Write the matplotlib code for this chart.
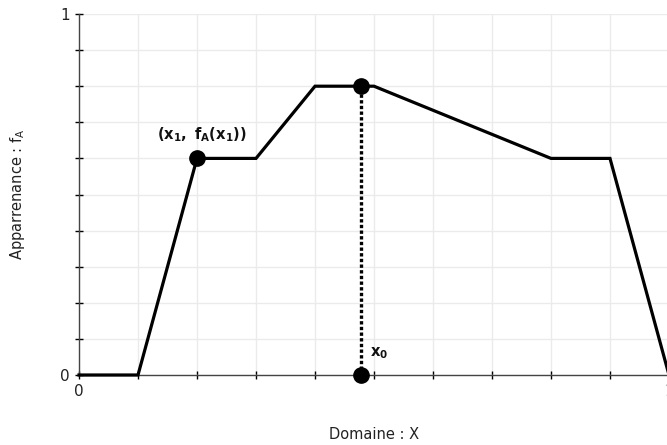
import matplotlib
matplotlib.use("Agg")
import matplotlib.pyplot as plt
import numpy as np

# Membership function (appearance) over the domain
x_vals = [0.0, 0.1, 0.2, 0.3, 0.4, 0.5, 0.8, 0.9, 1.0]
y_vals = [0.0, 0.0, 0.6, 0.6, 0.8, 0.8, 0.6, 0.6, 0.0]

# Highlighted points
x1, fx1 = 0.2, 0.6
x0, fx0 = 0.478, 0.8

tick_positions = [i / 10 for i in range(11)]
tick_labels = ["0"] + [""] * 9 + ["1"]

fig = plt.figure(figsize=(6.67, 4.45), dpi=100)
ax = fig.add_axes([79 / 667, 70 / 445, 590 / 667, 361 / 445])
ax.set_xlim(0, 1)
ax.set_ylim(0, 1)

ax.set_xticks(tick_positions)
ax.set_xticklabels(tick_labels)
ax.set_yticks(tick_positions)
ax.set_yticklabels(tick_labels)
ax.grid(True, color="#ebebeb", linewidth=1)
ax.set_axisbelow(True)

for s in ["top", "right"]:
    ax.spines[s].set_visible(False)
for s in ["left", "bottom"]:
    ax.spines[s].set_color("#444444")
    ax.spines[s].set_linewidth(1)

ax.tick_params(direction="inout", length=6, width=1, color="black",
               labelsize=11, labelcolor="#222222")

ax.plot(x_vals, y_vals, color="black", linewidth=2.3, solid_joinstyle="miter",
        clip_on=False, zorder=3)
ax.plot([x0, x0], [0, fx0], color="black", linestyle=(0, (1, 0.7)),
        linewidth=2.4, zorder=3)
ax.plot([x1, x0, x0], [fx1, fx0, 0], "o", color="black", markersize=11,
        clip_on=False, zorder=4)

ax.text(x1 + 0.008, fx1 + 0.04, r"$\mathbf{(x_1,\ f_A(x_1))}$", ha="center", va="bottom",
        fontsize=10.5, color="#111111")
ax.text(x0 + 0.016, 0.04, r"$\mathbf{x_0}$", ha="left", va="bottom",
        fontsize=10.5, color="#111111")

ax.set_xlabel("Domaine : X", fontsize=10.5, color="#222222", labelpad=20)
ax.set_ylabel("Apparrenance : $\\mathregular{f_A}$", fontsize=10.5, color="#222222",
              labelpad=24)

fig.savefig("out.png", dpi=100)
